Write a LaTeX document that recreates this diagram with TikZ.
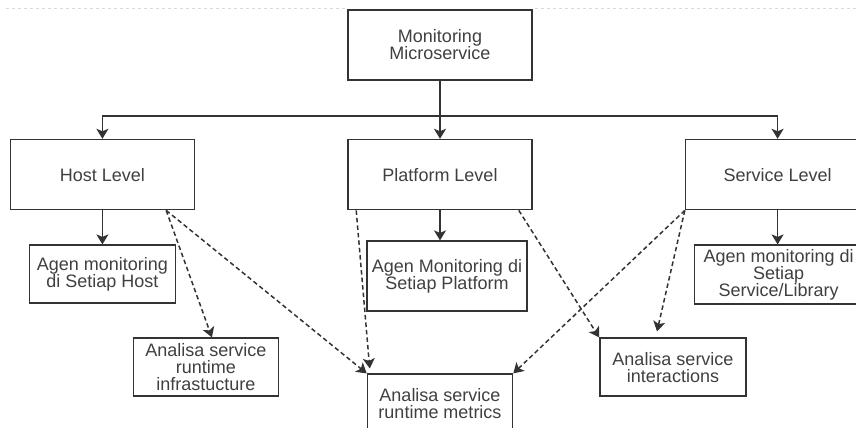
\documentclass[tikz,border=0pt]{standalone}
\usepackage{fontspec}
\setmainfont{Liberation Sans}
\usetikzlibrary{positioning,arrows.meta}

\begin{document}
\begin{tikzpicture}[>={Stealth[length=10pt,width=12pt,inset=2.5pt]}, x=1pt, y=-1pt,
    box/.style={rectangle, draw=black!80, line width=1.6pt, fill=white, text=black!75,
      align=center, inner sep=1pt, font=\fontsize{18}{17}\selectfont},
    level/.style={box, minimum width=184pt, minimum height=70pt},
    leaf/.style={box, minimum width=146pt, minimum height=58pt},
    conn/.style={draw=black!80, line width=1.6pt},
    dep/.style={conn, line width=1.5pt, dash pattern=on 4.5pt off 3pt}]

\useasboundingbox (0,0) rectangle (856,428);
\clip (0,0) rectangle (856,428);

% faint rule at the top
\draw[black!15, dashed, line width=0.8pt] (6,8) -- (346,8) (535,8) -- (856,8);

% Levels
\node[level] (mon) at (440,45) {Monitoring\\Microservice};
\node[level, below=58pt of mon] (platform) {Platform Level};
\node[level, left=152pt of platform] (host) {Host Level};
\node[level, right=152pt of platform] (service) {Service Level};

% Agents and analyses
\node[leaf, below=34pt of host] (agenhost) {Agen monitoring\\di Setiap Host};
\node[leaf, below=30pt of platform, xshift=7pt, minimum width=160pt, minimum height=70pt] (agenplat) {Agen Monitoring di\\Setiap Platform};
\node[leaf, below=34pt of service, xshift=1pt, minimum width=168pt, minimum height=59pt] (agenserv) {Agen monitoring di\\Setiap\\Service/Library};
\node[leaf, below=127pt of host, xshift=103.5pt, minimum width=145pt] (infra) {Analisa service\\runtime\\infrastucture};
\node[leaf, below=163pt of platform, minimum width=145pt] (metrics) {Analisa service\\runtime metrics};
\node[leaf, below=127pt of platform, xshift=233pt] (interact) {Analisa service\\interactions};

% Tree
\coordinate[below=35pt of mon] (split);
\draw[conn, ->] (mon) -- (platform);
\draw[conn, ->] (split) -| (host);
\draw[conn, ->] (split) -| (service);
\draw[conn, ->] (host) -- (agenhost);
\draw[conn, ->] (platform.south) -- (platform.south |- agenplat.north);
\draw[conn, ->] (service.south) -- (service.south |- agenserv.north);

% Analyses
\draw[dep, ->] ([xshift=-29pt]host.south east) -- ([xshift=6pt]infra.north);
\draw[dep, ->] ([xshift=-29pt]host.south east) -- (metrics.north west);
\draw[dep, ->] ([xshift=9pt]platform.south west) -- ([xshift=3pt,yshift=5pt]metrics.north west);
\draw[dep, ->] ([xshift=-14pt]platform.south east) -- (interact.north west);
\draw[dep, ->] (service.south west) -- (metrics.north east);
\draw[dep, ->] (service.south west) -- ([xshift=-16pt,yshift=6pt]interact.north);

\end{tikzpicture}
\end{document}
